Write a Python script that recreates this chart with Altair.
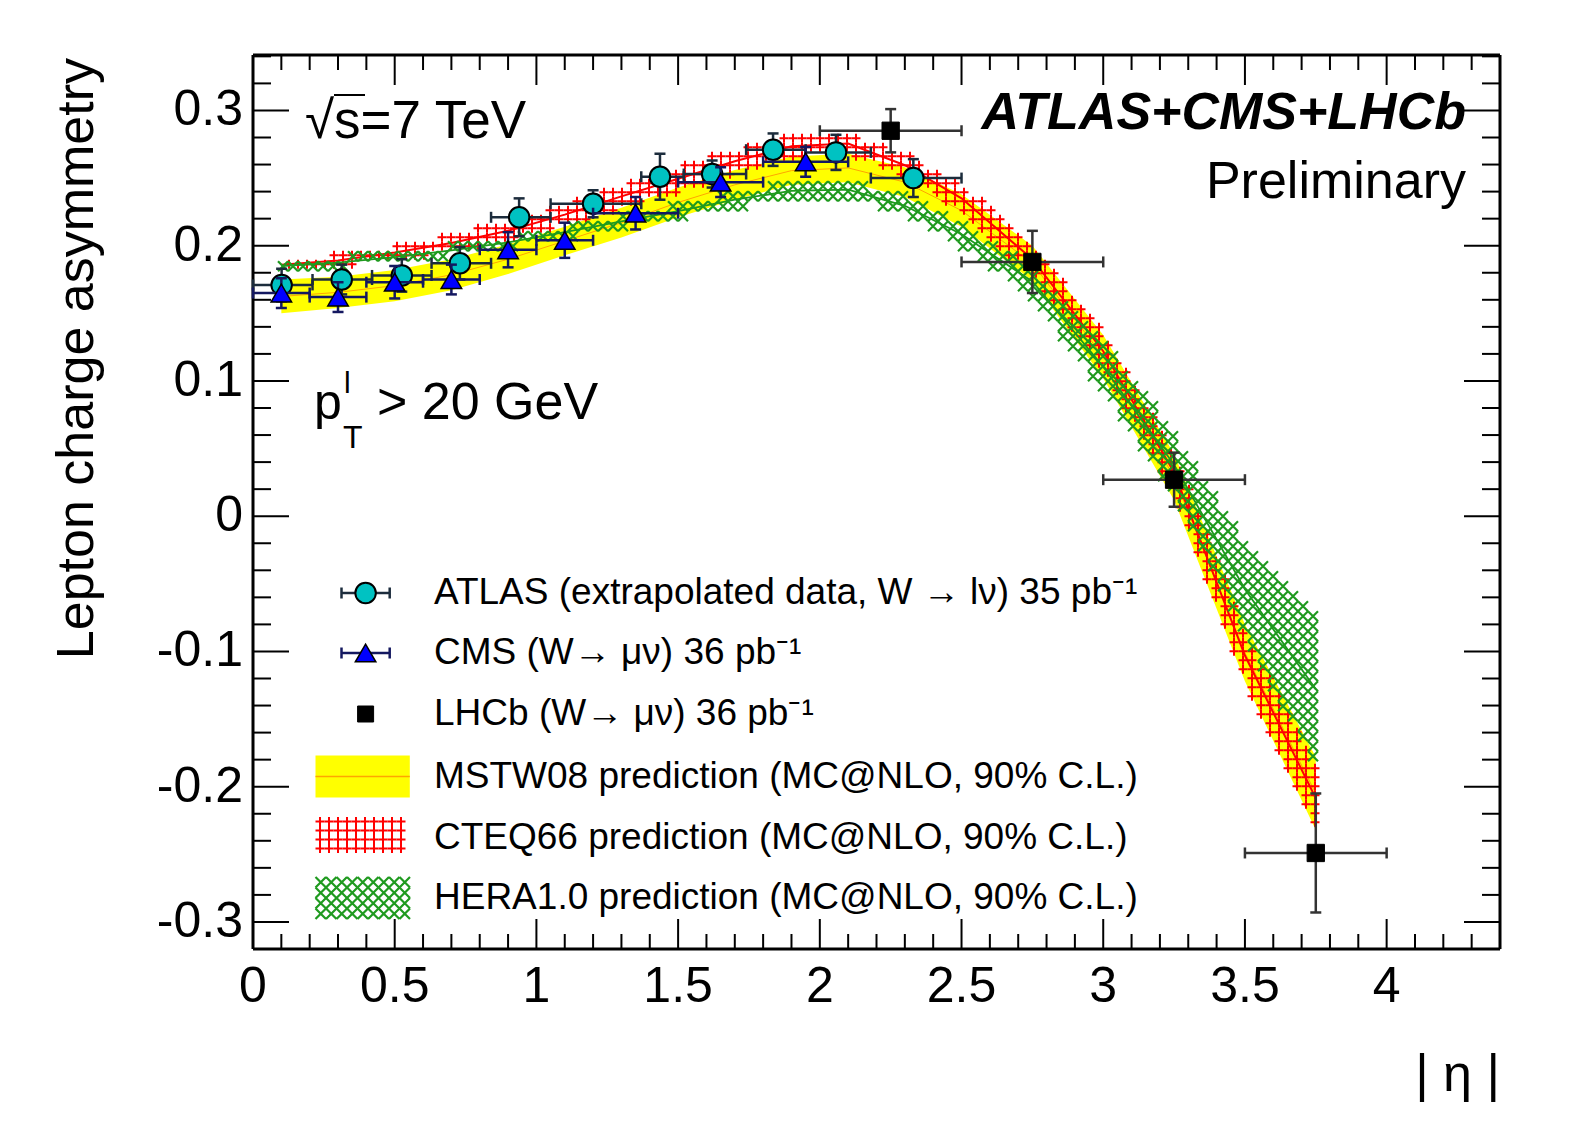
import altair as alt
import numpy as np
import pandas as pd

# ---------------- measured data ----------------
atlas_eta = [0.101, 0.313, 0.525, 0.730, 0.939, 1.200, 1.436, 1.620, 1.835, 2.057, 2.330]
atlas_eta_lo = [0.00, 0.21, 0.42, 0.63, 0.84, 1.05, 1.37, 1.52, 1.74, 1.95, 2.18]
atlas_eta_hi = [0.21, 0.42, 0.63, 0.84, 1.05, 1.37, 1.52, 1.74, 1.95, 2.18, 2.50]
atlas_asym = [0.171, 0.175, 0.178, 0.187, 0.221, 0.231, 0.251, 0.253, 0.271, 0.269, 0.250]
atlas_err = [0.012, 0.011, 0.012, 0.012, 0.014, 0.010, 0.017, 0.010, 0.012, 0.013, 0.014]

cms_eta = [0.10, 0.30, 0.50, 0.70, 0.90, 1.10, 1.35, 1.65, 1.95]
cms_eta_lo = [0.0, 0.2, 0.4, 0.6, 0.8, 1.0, 1.2, 1.5, 1.8]
cms_eta_hi = [0.2, 0.4, 0.6, 0.8, 1.0, 1.2, 1.5, 1.8, 2.1]
cms_asym = [0.165, 0.162, 0.173, 0.175, 0.197, 0.204, 0.224, 0.247, 0.262]
cms_err = [0.011, 0.011, 0.012, 0.011, 0.013, 0.013, 0.012, 0.011, 0.011]

lhcb_eta = [2.25, 2.75, 3.25, 3.75]
lhcb_eta_lo = [2.0, 2.5, 3.0, 3.5]
lhcb_eta_hi = [2.5, 3.0, 3.5, 4.0]
lhcb_asym = [0.285, 0.188, 0.027, -0.249]
lhcb_err = [0.016, 0.023, 0.020, 0.044]

band_eta = [0.1, 0.3, 0.5, 0.7, 0.9, 1.1, 1.3, 1.5, 1.7, 1.9, 2.1, 2.3, 2.5, 2.75, 3.0, 3.25, 3.5, 3.75]
mstw_lo = [0.150, 0.154, 0.159, 0.167, 0.179, 0.193, 0.206, 0.221, 0.234, 0.245, 0.247, 0.236, 0.214, 0.174, 0.102, 0.012, -0.122, -0.232]
mstw_hi = [0.175, 0.177, 0.182, 0.190, 0.201, 0.214, 0.228, 0.243, 0.256, 0.266, 0.268, 0.258, 0.238, 0.200, 0.134, 0.046, -0.080, -0.178]
cteq_lo = [0.180, 0.183, 0.188, 0.194, 0.202, 0.213, 0.226, 0.238, 0.252, 0.264, 0.266, 0.249, 0.222, 0.176, 0.106, 0.015, -0.124, -0.234]
cteq_hi = [0.192, 0.195, 0.202, 0.210, 0.220, 0.233, 0.247, 0.261, 0.273, 0.283, 0.285, 0.270, 0.248, 0.204, 0.138, 0.050, -0.082, -0.183]
hera_lo = [0.181, 0.184, 0.188, 0.193, 0.199, 0.206, 0.213, 0.220, 0.228, 0.234, 0.235, 0.222, 0.200, 0.163, 0.093, 0.014, -0.088, -0.186]
hera_hi = [0.189, 0.191, 0.195, 0.200, 0.206, 0.214, 0.223, 0.231, 0.240, 0.247, 0.248, 0.237, 0.217, 0.184, 0.128, 0.062, -0.020, -0.070]

x_major = [0, 0.5, 1, 1.5, 2, 2.5, 3, 3.5, 4]
x_labels = ["0", "0.5", "1", "1.5", "2", "2.5", "3", "3.5", "4"]
x_minor = [round(0.1 * i, 1) for i in range(1, 44) if i % 5 != 0]
y_major = [-0.3, -0.2, -0.1, 0, 0.1, 0.2, 0.3]
y_labels = ["-0.3", "-0.2", "-0.1", "0", "0.1", "0.2", "0.3"]
y_minor = [round(0.02 * i, 2) for i in range(-16, 18) if i % 5 != 0]

legend_labels = [
    "ATLAS (extrapolated data, W \u2192 l\u03bd) 35 pb\u207b\u00b9",
    "CMS (W\u2192 \u03bc\u03bd) 36 pb\u207b\u00b9",
    "LHCb (W\u2192 \u03bc\u03bd) 36 pb\u207b\u00b9",
    "MSTW08 prediction (MC@NLO, 90% C.L.)",
    "CTEQ66 prediction (MC@NLO, 90% C.L.)",
    "HERA1.0 prediction (MC@NLO, 90% C.L.)",
]

# ---------------- layout ----------------
W, H = 1247, 894
X0, X1 = 0.0, 4.4
Y0, Y1 = -0.32, 0.341
FONT = "Liberation Sans"
RED = "#ff0000"
GREEN = "#1f9a1f"
YELLOW = "#ffff00"
CYAN = "#00c2c2"
PLUS = "M-1,0L1,0M0,-1L0,1"
CROSS = "M-1,-1L1,1M-1,1L1,-1"

xsc = alt.Scale(domain=[X0, X1], nice=False, zero=False)
ysc = alt.Scale(domain=[Y0, Y1], nice=False, zero=False)


def px2x(px):
    return X0 + px / W * (X1 - X0)


def py2y(py):
    return Y1 - py / H * (Y1 - Y0)


def XE(f):
    return alt.X(f, type="quantitative", scale=xsc, axis=None)


def YE(f):
    return alt.Y(f, type="quantitative", scale=ysc, axis=None)


def hatch_points(lo, hi, step, inset=0.25):
    dx = step * (X1 - X0) / W
    dy = step * (Y1 - Y0) / H
    pts = []
    for k in range(int(np.ceil(band_eta[0] / dx)), int(np.floor(band_eta[-1] / dx)) + 1):
        x = k * dx
        l = np.interp(x, band_eta, lo)
        h = np.interp(x, band_eta, hi)
        j0 = int(np.ceil((l + inset * dy) / dy))
        j1 = int(np.floor((h - inset * dy) / dy))
        if j1 < j0:
            j0 = j1 = int(round((l + h) / 2 / dy))
        for j in range(j0, j1 + 1):
            pts.append((x, j * dy))
    return pd.DataFrame(pts, columns=["eta", "A"])


def box_points(xa, xb, ya, yb, step):
    pts = []
    for px in np.arange(xa + step / 2, xb - step / 2 + 0.5, step):
        for py in np.arange(ya + step / 2, yb - step / 2 + 0.5, step):
            pts.append((px2x(px), py2y(py)))
    return pd.DataFrame(pts, columns=["eta", "A"])


df_band = pd.DataFrame({
    "eta": band_eta, "mlo": mstw_lo, "mhi": mstw_hi,
    "clo": cteq_lo, "chi": cteq_hi, "hlo": hera_lo, "hhi": hera_hi,
})
df_band["mc"] = (df_band["mlo"] + df_band["mhi"]) / 2
df_band["cc"] = (df_band["clo"] + df_band["chi"]) / 2
df_band["hc"] = (df_band["hlo"] + df_band["hhi"]) / 2


def pts_df(eta, lo, hi, a, e):
    d = pd.DataFrame({"eta": eta, "lo": lo, "hi": hi, "A": a, "e": e})
    d["Alo"] = d["A"] - d["e"]
    d["Ahi"] = d["A"] + d["e"]
    return d


df_atlas = pts_df(atlas_eta, atlas_eta_lo, atlas_eta_hi, atlas_asym, atlas_err)
df_cms = pts_df(cms_eta, cms_eta_lo, cms_eta_hi, cms_asym, cms_err)
df_lhcb = pts_df(lhcb_eta, lhcb_eta_lo, lhcb_eta_hi, lhcb_asym, lhcb_err)

layers = []

# MSTW yellow band
layers.append(alt.Chart(df_band).mark_area(color=YELLOW, opacity=1).encode(
    x=XE("eta"), y=YE("mlo"), y2="mhi:Q"))
layers.append(alt.Chart(df_band).mark_line(color="#ffa500", strokeWidth=1).encode(
    x=XE("eta"), y=YE("mc")))

# CTEQ red grid hatch
layers.append(alt.Chart(hatch_points(cteq_lo, cteq_hi, 9)).mark_point(
    shape=PLUS, size=81, filled=False, stroke=RED, strokeWidth=2, opacity=1).encode(
    x=XE("eta"), y=YE("A")))
layers.append(alt.Chart(df_band).mark_line(color=RED, strokeWidth=2).encode(
    x=XE("eta"), y=YE("cc")))

# HERA green cross hatch
layers.append(alt.Chart(hatch_points(hera_lo, hera_hi, 10, inset=0.0)).mark_point(
    shape=CROSS, size=100, filled=False, stroke=GREEN, strokeWidth=2.2, opacity=1).encode(
    x=XE("eta"), y=YE("A")))
layers.append(alt.Chart(df_band).mark_line(color=GREEN, strokeWidth=1.8).encode(
    x=XE("eta"), y=YE("hc")))

# inward ticks on all four sides
for vals, L in ((x_major, 30), (x_minor, 15)):
    d = pd.DataFrame({"v": vals})
    layers.append(alt.Chart(d).mark_rule(color="black", strokeWidth=2).encode(
        x=XE("v"), y=alt.value(H), y2=alt.value(H - L)))
    layers.append(alt.Chart(d).mark_rule(color="black", strokeWidth=2).encode(
        x=XE("v"), y=alt.value(0), y2=alt.value(L)))
for vals, L in ((y_major, 36), (y_minor, 18)):
    d = pd.DataFrame({"v": vals})
    layers.append(alt.Chart(d).mark_rule(color="black", strokeWidth=2).encode(
        y=YE("v"), x=alt.value(0), x2=alt.value(L)))
    layers.append(alt.Chart(d).mark_rule(color="black", strokeWidth=2).encode(
        y=YE("v"), x=alt.value(W), x2=alt.value(W - L)))

# frame
for enc in (dict(x=alt.value(0), x2=alt.value(W), y=alt.value(0)),
            dict(x=alt.value(0), x2=alt.value(W), y=alt.value(H)),
            dict(x=alt.value(0), y=alt.value(0), y2=alt.value(H)),
            dict(x=alt.value(W), y=alt.value(0), y2=alt.value(H))):
    layers.append(alt.Chart(pd.DataFrame({"k": [0]})).mark_rule(
        color="black", strokeWidth=3).encode(**enc))

# tick labels
df_xl = pd.DataFrame({"v": x_major, "t": x_labels})
layers.append(alt.Chart(df_xl).mark_text(font=FONT, fontSize=50, align="center",
                                         baseline="top", color="black").encode(
    x=XE("v"), y=alt.value(H + 13), text="t:N"))
df_yl = pd.DataFrame({"v": y_major, "t": y_labels})
layers.append(alt.Chart(df_yl).mark_text(font=FONT, fontSize=50, align="right",
                                         baseline="middle", color="black").encode(
    y=YE("v"), x=alt.value(-10), text="t:N"))


def data_layers(df, bar_color, marker):
    out = []
    out.append(alt.Chart(df).mark_rule(color=bar_color, strokeWidth=2.5).encode(
        x=XE("lo"), x2="hi:Q", y=YE("A")))
    out.append(alt.Chart(df).mark_rule(color=bar_color, strokeWidth=2.5).encode(
        x=XE("eta"), y=YE("Alo"), y2="Ahi:Q"))
    for f in ("lo", "hi"):
        out.append(alt.Chart(df).mark_tick(orient="vertical", size=11, thickness=2.5,
                                           color=bar_color, opacity=1).encode(
            x=XE(f), y=YE("A")))
    for f in ("Alo", "Ahi"):
        out.append(alt.Chart(df).mark_tick(orient="horizontal", size=11, thickness=2.5,
                                           color=bar_color, opacity=1).encode(
            x=XE("eta"), y=YE(f)))
    out.append(alt.Chart(df).mark_point(**marker).encode(x=XE("eta"), y=YE("A")))
    return out


atlas_marker = dict(shape="circle", filled=True, fill=CYAN, stroke="black",
                    strokeWidth=2, size=420, opacity=1)
cms_marker = dict(shape="triangle-up", filled=True, fill="#0000ff", stroke="black",
                  strokeWidth=1.5, size=420, opacity=1)
lhcb_marker = dict(shape="square", filled=True, fill="black", stroke="black",
                   strokeWidth=1, size=300, opacity=1)

layers += data_layers(df_atlas, "#1c2c3c", atlas_marker)
layers += data_layers(df_cms, "#141860", cms_marker)
layers += data_layers(df_lhcb, "#333333", lhcb_marker)

# ---------------- annotations ----------------
dummy = pd.DataFrame({"k": [0]})


def txt(text, x, y, size, align="left", baseline="alphabetic", **kw):
    return alt.Chart(dummy).mark_text(text=text, font=kw.pop("font", FONT), fontSize=size,
                                      align=align, baseline=baseline, color="black", **kw).encode(
        x=alt.value(x), y=alt.value(y))


layers.append(txt("\u221as=7 TeV", 52, 83, 53))
layers.append(alt.Chart(dummy).mark_rule(color="black", strokeWidth=2).encode(
    x=alt.value(81), x2=alt.value(112), y=alt.value(40)))
layers.append(txt("ATLAS+CMS+LHCb", 1213, 74, 52, align="right",
                  fontWeight="bold", fontStyle="italic"))
layers.append(txt("Preliminary", 1213, 143, 52, align="right"))
layers.append(txt("p", 61, 364, 50))
layers.append(txt("l", 91, 338, 30))
layers.append(txt("T", 90, 393, 32))
layers.append(txt("> 20 GeV", 124, 364, 52))
layers.append(txt("| \u03b7 |", W, 1020, 52, align="right", baseline="middle"))
layers.append(txt("Lepton charge asymmetry", -176, 3, 52, align="right",
                  baseline="middle", angle=270))

# ---------------- legend ----------------
rows_px = [538, 598, 659, 721.5, 783, 843]
sym_cx = 112.6
bar_l, bar_r = 88.5, 136.7
box_l, box_r = 62.5, 156.8

df_leg_text = pd.DataFrame({"eta": [px2x(181)] * 6, "A": [py2y(r) for r in rows_px],
                            "label": legend_labels})
layers.append(alt.Chart(df_leg_text).mark_text(font=FONT, fontSize=37, align="left",
                                               baseline="middle", color="black").encode(
    x=XE("eta"), y=YE("A"), text="label:N"))

for row, col, marker in ((rows_px[0], "#1c2c3c", atlas_marker), (rows_px[1], "#141860", cms_marker)):
    d = pd.DataFrame({"l": [px2x(bar_l)], "r": [px2x(bar_r)], "c": [px2x(sym_cx)], "A": [py2y(row)]})
    layers.append(alt.Chart(d).mark_rule(color=col, strokeWidth=2.5).encode(
        x=XE("l"), x2="r:Q", y=YE("A")))
    for f in ("l", "r"):
        layers.append(alt.Chart(d).mark_tick(orient="vertical", size=11, thickness=2.5,
                                             color=col, opacity=1).encode(x=XE(f), y=YE("A")))
    layers.append(alt.Chart(d).mark_point(**marker).encode(x=XE("c"), y=YE("A")))

d = pd.DataFrame({"c": [px2x(sym_cx)], "A": [py2y(rows_px[2])]})
layers.append(alt.Chart(d).mark_point(**dict(lhcb_marker, size=256)).encode(x=XE("c"), y=YE("A")))

# MSTW box
d = pd.DataFrame({"l": [px2x(box_l)], "r": [px2x(box_r)],
                  "t": [py2y(rows_px[3] - 21)], "b": [py2y(rows_px[3] + 21)], "m": [py2y(rows_px[3])]})
layers.append(alt.Chart(d).mark_rect(color=YELLOW, opacity=1).encode(
    x=XE("l"), x2="r:Q", y=YE("t"), y2="b:Q"))
layers.append(alt.Chart(d).mark_rule(color="#ffa500", strokeWidth=1.5).encode(
    x=XE("l"), x2="r:Q", y=YE("m")))
# CTEQ box
layers.append(alt.Chart(box_points(box_l, box_r, rows_px[4] - 21, rows_px[4] + 21, 9)).mark_point(
    shape=PLUS, size=81, filled=False, stroke=RED, strokeWidth=2, opacity=1).encode(
    x=XE("eta"), y=YE("A")))
# HERA box
layers.append(alt.Chart(box_points(box_l, box_r, rows_px[5] - 21, rows_px[5] + 21, 10.5)).mark_point(
    shape=CROSS, size=110, filled=False, stroke=GREEN, strokeWidth=2.2, opacity=1).encode(
    x=XE("eta"), y=YE("A")))

chart = alt.layer(*layers).properties(
    width=W, height=H,
    autosize=alt.AutoSizeParams(type="none"),
    padding={"left": 245, "top": 47, "right": 67, "bottom": 170},
).configure_view(stroke=None).configure(background="white")

chart.save("out.html", embed_options={"renderer": "svg", "actions": False})
